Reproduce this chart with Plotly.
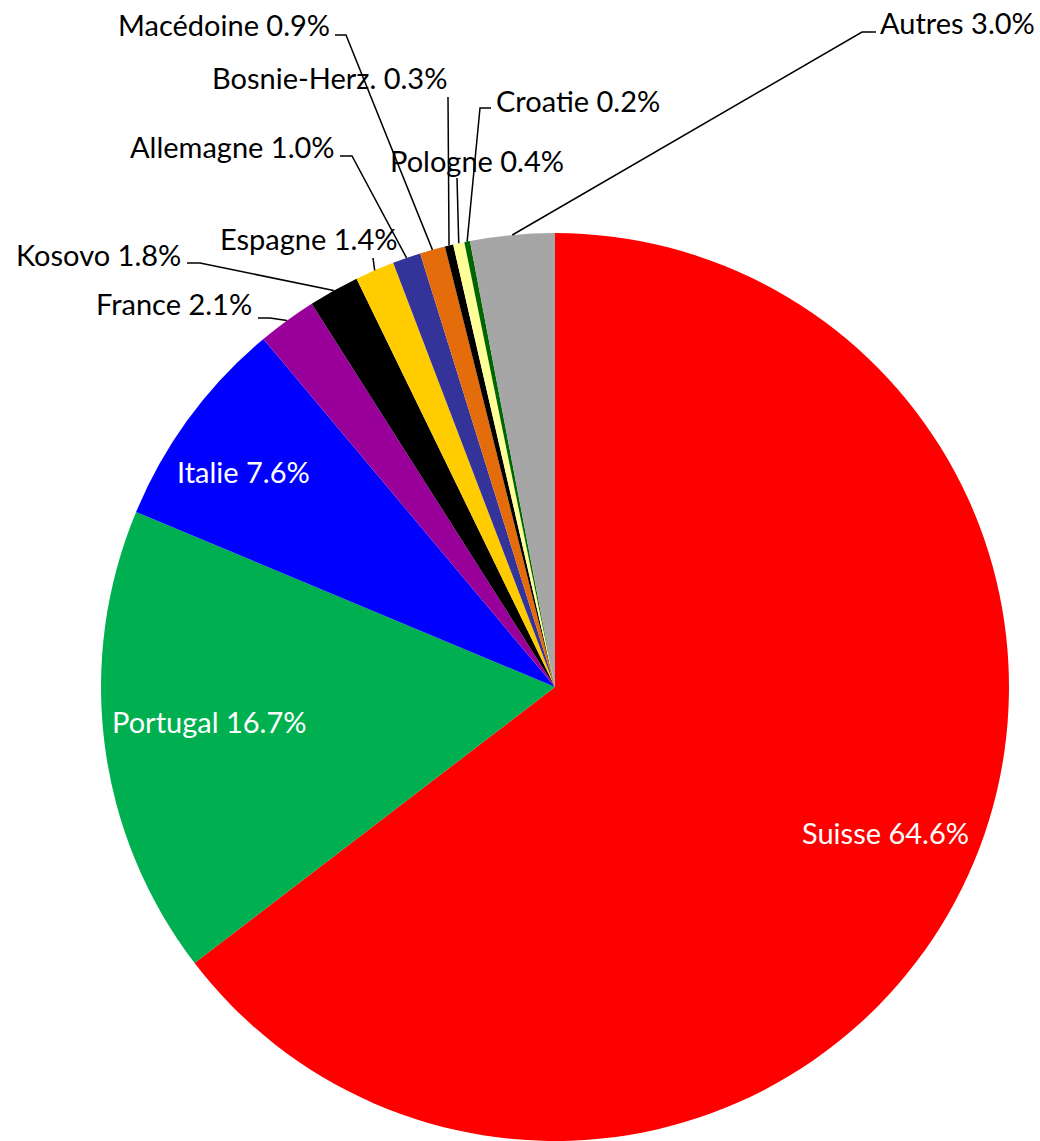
import math
import plotly.graph_objects as go

# ---- data ----
countries = ["Suisse", "Portugal", "Italie", "France", "Kosovo", "Espagne",
             "Allemagne", "Macédoine", "Bosnie-Herz.", "Pologne", "Croatie", "Autres"]
shares = [64.6, 16.7, 7.6, 2.1, 1.8, 1.4, 1.0, 0.9, 0.3, 0.4, 0.2, 3.0]
colors = ["#FF0000", "#00B050", "#0000FF", "#990099", "#000000", "#FFCC00",
          "#333399", "#E46C0A", "#000000", "#FFFF99", "#006600", "#A6A6A6"]

# ---- layout (pixels) ----
W, H = 1040, 1141
CX, CY, R = 555, 687, 454
FONT = "Lato"
FS = 29

# inside labels: name -> (x, y) centre
inside = {"Suisse": (885, 832), "Portugal": (209, 722), "Italie": (243, 472)}
# outside labels: name -> (text x, text y, xanchor, elbow points of leader line)
outside = {
    "France":       (254, 303, "right", [(270, 318), (258, 318)]),
    "Kosovo":       (183, 255, "right", [(200, 263), (187, 263)]),
    "Espagne":      (308, 238, "center", [(373, 258)]),
    "Allemagne":    (337, 146, "right", [(352, 156), (340, 156)]),
    "Macédoine":    (332, 25, "right", [(346, 35), (335, 35)]),
    "Bosnie-Herz.": (449, 78, "right", [(448, 97)]),
    "Pologne":      (477, 160, "center", [(457, 178)]),
    "Croatie":      (494, 100, "left", [(480, 108), (491, 108)]),
    "Autres":       (878, 22, "left", [(862, 32), (876, 32)]),
}


def px(x):
    return x / W


def py(y):
    return 1 - y / H


fig = go.Figure(go.Pie(
    labels=countries, values=shares, sort=False, direction="clockwise",
    rotation=0, marker=dict(colors=colors, line=dict(width=0)),
    textinfo="none", hoverinfo="label+percent", showlegend=False,
    domain=dict(x=[(CX - R) / W, (CX + R) / W], y=[(H - CY - R) / H, (H - CY + R) / H]),
))

total = sum(shares)
annotations = []
shapes = []
cum = 0.0
for name, v in zip(countries, shares):
    mid = (cum + v / 2) / total * 2 * math.pi
    cum += v
    ex = CX + R * math.sin(mid)
    ey = CY - R * math.cos(mid)
    label = f"{name} {v:.1f}%"
    if name in inside:
        x, y = inside[name]
        annotations.append(dict(x=px(x), y=py(y), xref="paper", yref="paper",
                                text=label, showarrow=False, xanchor="center", yanchor="middle",
                                font=dict(family=FONT, size=FS, color="white")))
    elif name in outside:
        tx, ty, anc, elbows = outside[name]
        annotations.append(dict(x=px(tx), y=py(ty), xref="paper", yref="paper",
                                text=label, showarrow=False, xanchor=anc, yanchor="middle",
                                font=dict(family=FONT, size=FS, color="black")))
        pts = [(ex, ey)] + elbows
        path = "M " + " L ".join(f"{px(a)},{py(b)}" for a, b in pts)
        shapes.append(dict(type="path", path=path, xref="paper", yref="paper",
                           line=dict(color="black", width=1.5), layer="above"))

fig.update_layout(
    width=W, height=H, margin=dict(l=0, r=0, t=0, b=0),
    paper_bgcolor="white", plot_bgcolor="white",
    annotations=annotations, shapes=shapes,
    font=dict(family=FONT, size=FS),
)

fig.write_html("out.html", config={"displayModeBar": False},
               post_script="document.body.style.margin='0';document.body.style.overflow='hidden';")
